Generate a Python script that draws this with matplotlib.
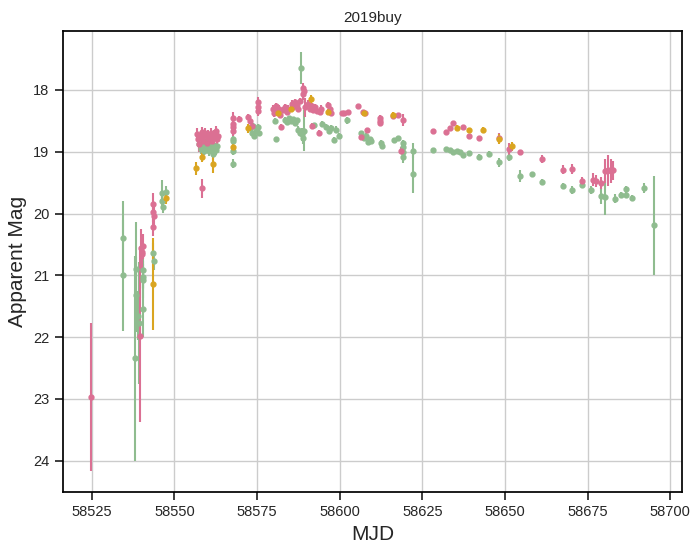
import matplotlib
matplotlib.use('Agg')
import matplotlib.pyplot as plt
import seaborn as sns

sns.set_theme(style='ticks', rc={'axes.grid': True})
plt.rcParams['font.family'] = ['Liberation Sans', 'DejaVu Sans']

# green band
g_mjd = [58534.5, 58534.5, 58538.3, 58538.4, 58538.2, 58539.1, 58539.2,
         58540.5, 58540.5, 58540.6, 58540.4, 58543.6, 58543.7,
         58546.2, 58546.2, 58546.6, 58547.4,
         58557.6, 58558.0, 58558.5, 58559.0, 58559.5, 58560.0, 58560.5,
         58561.0, 58561.5, 58561.8, 58562.2, 58562.7, 58563.0,
         58567.6, 58567.6, 58567.6, 58567.6,
         58572.8, 58573.4, 58573.8, 58574.2, 58574.7, 58575.2, 58575.6,
         58580.4, 58580.6,
         58583.5, 58584.0, 58584.6, 58585.2, 58585.8, 58586.4, 58587.0,
         58587.5, 58588.0, 58588.3, 58588.5, 58589.2, 58589.0,
         58592.2, 58594.7, 58596.0, 58596.8, 58597.5, 58598.4, 58598.8,
         58599.9, 58602.3,
         58606.6, 58607.3, 58608.0, 58608.6, 58609.1, 58609.5,
         58612.5, 58612.7,
         58616.5, 58617.5, 58619.3, 58619.3, 58619.3, 58619.2,
         58622.3, 58622.3,
         58628.3, 58632.3, 58633.5, 58634.4, 58635.4, 58636.4, 58637.4,
         58639.2, 58642.2, 58645.3, 58648.3, 58651.3, 58654.4, 58658.3,
         58661.2, 58667.4, 58670.4, 58673.4, 58676.1, 58679.1, 58680.3,
         58683.3, 58685.1, 58686.5, 58686.5, 58688.3, 58692.1, 58695.1]
g_mag = [20.40, 21.00, 20.89, 21.31, 22.34, 21.65, 21.77,
         20.91, 21.02, 21.07, 21.55, 20.63, 20.77,
         19.66, 19.80, 19.89, 19.65,
         18.88, 18.95, 18.90, 18.98, 18.86, 18.94, 18.99,
         18.88, 18.95, 19.04, 18.92, 18.97, 18.90,
         18.80, 18.83, 18.99, 19.19,
         18.62, 18.70, 18.58, 18.74, 18.66, 18.60, 18.70,
         18.50, 18.80,
         18.48, 18.52, 18.46, 18.50, 18.47, 18.53, 18.49,
         18.64, 18.69, 17.64, 18.72, 18.66, 18.78,
         18.57, 18.55, 18.60, 18.66, 18.62, 18.81, 18.64,
         18.74, 18.49,
         18.70, 18.78, 18.74, 18.84, 18.80, 18.83,
         18.85, 18.90,
         18.81, 18.78, 18.86, 18.93, 19.00, 19.08,
         18.98, 19.36,
         18.97, 18.96, 18.97, 19.00, 18.99, 19.00, 19.05,
         19.02, 19.09, 19.04, 19.17, 19.08, 19.39, 19.36,
         19.49, 19.55, 19.62, 19.53, 19.62, 19.72, 19.73,
         19.76, 19.70, 19.61, 19.70, 19.75, 19.59, 20.19]
g_err = [0.60, 0.90, 0.75, 0.60, 1.66, 0.40, 0.98,
         0.30, 0.20, 0.30, 0.45, 0.15, 0.15,
         0.20, 0.12, 0.10, 0.10,
         0.08, 0.08, 0.07, 0.08, 0.07, 0.08, 0.08,
         0.07, 0.08, 0.10, 0.07, 0.08, 0.07,
         0.06, 0.06, 0.07, 0.08,
         0.05, 0.05, 0.05, 0.05, 0.05, 0.05, 0.05,
         0.04, 0.04,
         0.04, 0.04, 0.04, 0.04, 0.04, 0.04, 0.04,
         0.05, 0.06, 0.26, 0.10, 0.33, 0.10,
         0.04, 0.05, 0.05, 0.05, 0.05, 0.05, 0.05,
         0.05, 0.06,
         0.04, 0.04, 0.04, 0.04, 0.04, 0.04,
         0.04, 0.04,
         0.04, 0.04, 0.05, 0.06, 0.07, 0.10,
         0.12, 0.30,
         0.03, 0.03, 0.03, 0.03, 0.03, 0.03, 0.03,
         0.03, 0.05, 0.05, 0.07, 0.07, 0.10, 0.04,
         0.05, 0.05, 0.07, 0.06, 0.07, 0.13, 0.30,
         0.07, 0.05, 0.05, 0.05, 0.05, 0.08, 0.80]

# pink band
r_mjd = [58524.7, 58539.5, 58539.9, 58540.1, 58540.5, 58540.3,
         58543.6, 58543.6, 58543.7, 58543.6, 58558.4,
         58557.0, 58557.2, 58557.4, 58558.0, 58558.3, 58558.6, 58559.1,
         58559.4, 58559.8, 58560.2, 58560.5, 58561.0, 58561.3, 58561.7,
         58562.1, 58562.5, 58562.8, 58563.1,
         58567.8, 58567.8, 58567.8, 58567.8, 58569.6,
         58572.3, 58573.0, 58573.6, 58575.3, 58575.3, 58575.3,
         58579.8, 58580.2, 58580.6, 58581.0, 58581.6, 58582.0, 58582.3,
         58583.0, 58583.5, 58584.0, 58584.5, 58585.6, 58586.0, 58586.5,
         58587.0, 58587.5, 58588.0,
         58588.9, 58589.1, 58589.0, 58589.5,
         58590.5, 58591.0, 58591.5, 58591.5, 58592.0, 58592.5, 58593.0,
         58593.6, 58594.0, 58594.3,
         58596.5, 58597.0, 58597.5,
         58600.6, 58601.2, 58602.6,
         58605.6, 58606.6, 58607.0, 58607.8, 58608.4,
         58612.3, 58612.3, 58612.3,
         58616.2, 58617.5, 58619.2, 58618.5,
         58628.3, 58632.3, 58633.5, 58634.4, 58637.4, 58639.2, 58642.2,
         58648.3, 58651.3, 58654.4, 58661.2, 58667.4, 58670.4, 58673.4,
         58676.5, 58677.5, 58679.1, 58680.3, 58681.2, 58682.0, 58682.6]
r_mag = [22.97, 21.98, 20.55, 20.62, 20.53, 20.66,
         19.85, 19.98, 20.04, 20.22, 19.59,
         18.72, 18.80, 18.88, 18.75, 18.68, 18.82, 18.74,
         18.70, 18.85, 18.73, 18.78, 18.70, 18.82, 18.76,
         18.72, 18.66, 18.80, 18.74,
         18.55, 18.60, 18.66, 18.45, 18.47,
         18.44, 18.50, 18.58, 18.20, 18.28, 18.34,
         18.30, 18.38, 18.26, 18.34, 18.30, 18.40, 18.60,
         18.32, 18.28, 18.35, 18.30, 18.22, 18.27, 18.20,
         18.24, 18.30, 18.18,
         17.96, 18.02, 18.07, 18.28,
         18.22, 18.30, 18.26, 18.58, 18.32, 18.28, 18.34,
         18.69, 18.36, 18.30,
         18.24, 18.30, 18.38,
         18.37, 18.37, 18.36,
         18.26, 18.76, 18.36, 18.38, 18.65,
         18.45, 18.50, 18.53,
         18.42, 18.41, 18.49, 18.98,
         18.67, 18.68, 18.61, 18.54, 18.60, 18.75, 18.78,
         18.77, 18.96, 19.01, 19.12, 19.29, 19.28, 19.47,
         19.45, 19.47, 19.51, 19.31, 19.30, 19.31, 19.30]
r_err = [1.20, 1.40, 0.30, 0.25, 0.20, 0.25,
         0.18, 0.15, 0.15, 0.15, 0.15,
         0.10, 0.08, 0.12, 0.08, 0.08, 0.10, 0.08,
         0.08, 0.10, 0.08, 0.08, 0.08, 0.10, 0.08,
         0.08, 0.08, 0.10, 0.08,
         0.10, 0.10, 0.08, 0.10, 0.05,
         0.05, 0.05, 0.05, 0.08, 0.08, 0.08,
         0.05, 0.05, 0.05, 0.05, 0.05, 0.05, 0.05,
         0.05, 0.05, 0.05, 0.05, 0.05, 0.05, 0.05,
         0.05, 0.05, 0.05,
         0.08, 0.08, 0.10, 0.15,
         0.05, 0.05, 0.05, 0.05, 0.05, 0.05, 0.05,
         0.05, 0.05, 0.05,
         0.04, 0.04, 0.04,
         0.03, 0.03, 0.03,
         0.03, 0.04, 0.03, 0.03, 0.04,
         0.05, 0.05, 0.05,
         0.04, 0.04, 0.10, 0.05,
         0.03, 0.03, 0.03, 0.04, 0.03, 0.04, 0.04,
         0.08, 0.10, 0.04, 0.06, 0.07, 0.08, 0.07,
         0.10, 0.10, 0.10, 0.20, 0.25, 0.20, 0.15]

# orange band
o_mjd = [58543.6, 58547.4, 58556.5, 58558.4, 58561.6, 58567.6, 58572.3,
         58581.3, 58585.2, 58591.3, 58596.5, 58607.4, 58616.2, 58635.4,
         58639.2, 58643.4, 58648.3, 58652.2]
o_mag = [21.14, 19.74, 19.27, 19.08, 19.20, 18.93, 18.62,
         18.37, 18.30, 18.15, 18.36, 18.37, 18.40, 18.62,
         18.65, 18.65, 18.79, 18.91]
o_err = [0.75, 0.10, 0.10, 0.08, 0.15, 0.07, 0.07,
         0.05, 0.05, 0.07, 0.05, 0.05, 0.05, 0.05,
         0.04, 0.05, 0.08, 0.07]

fig = plt.figure(figsize=(7, 5.52), dpi=100)
ax = fig.add_axes([0.0893, 0.1082, 0.8854, 0.8362])

for mjd, mag, err, col in [(g_mjd, g_mag, g_err, 'darkseagreen'),
                           (r_mjd, r_mag, r_err, 'palevioletred'),
                           (o_mjd, o_mag, o_err, 'goldenrod')]:
    ax.errorbar(mjd, mag, yerr=err, fmt='o', color=col, ms=3.5,
                elinewidth=1.5, capsize=0)

ax.invert_yaxis()
ax.set_xticks([58525, 58550, 58575, 58600, 58625, 58650, 58675, 58700])
ax.set_yticks([18, 19, 20, 21, 22, 23, 24])
ax.tick_params(labelsize=10.5)
for s in ax.spines.values():
    s.set_color('black')
ax.set_xlabel('MJD', fontsize=15)
ax.set_ylabel('Apparent Mag', fontsize=15)
ax.set_title('2019buy', fontsize=11)

fig.savefig('out.png', dpi=100)
